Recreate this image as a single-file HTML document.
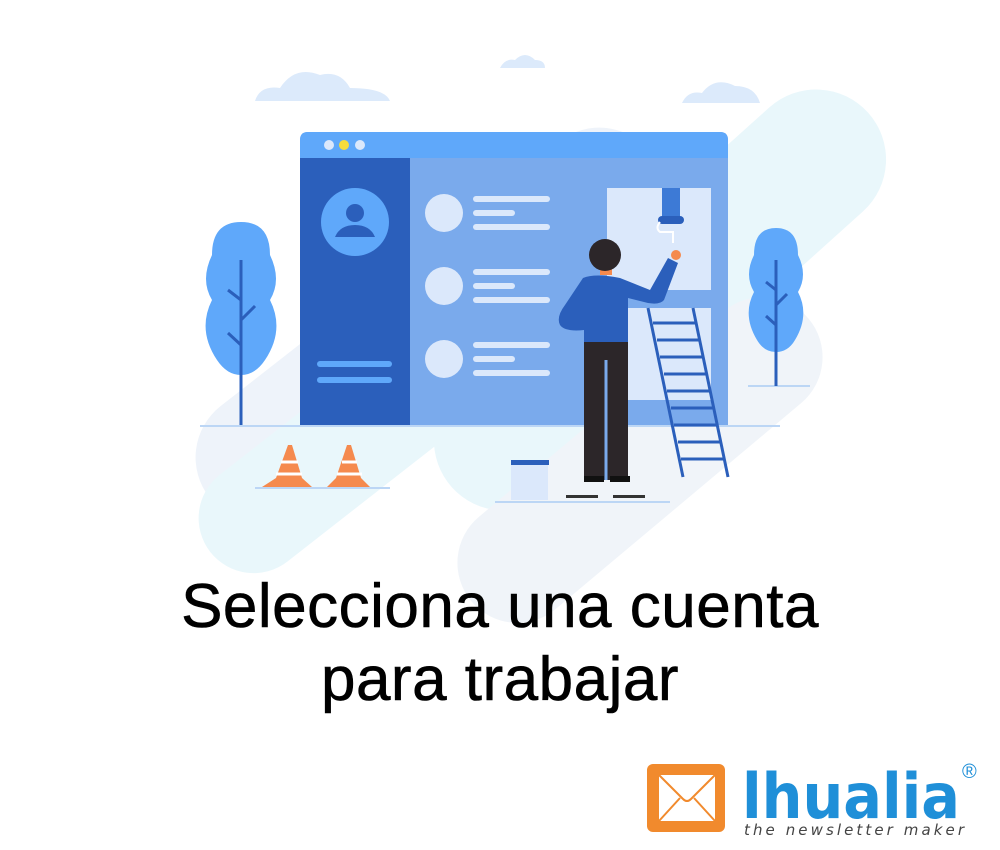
<!DOCTYPE html>
<html><head><meta charset="utf-8"><style>
html,body{margin:0;padding:0;background:#fff;width:1000px;height:850px;overflow:hidden}
.t{position:absolute;left:0;width:1000px;text-align:center;font-family:"Liberation Sans",sans-serif;font-size:62px;color:#000;letter-spacing:0.5px;-webkit-text-stroke:0.6px #000}
</style></head><body>
<svg width="1000" height="850" style="position:absolute;left:0;top:0">
<g opacity="1">
<rect x="150" y="260" width="560" height="130" rx="65" fill="#eef3fa" transform="rotate(-38 430 325)"/>
<rect x="380" y="230" width="560" height="140" rx="70" fill="#e9f7fb" transform="rotate(-42 660 300)"/>
<rect x="170" y="380" width="380" height="110" rx="55" fill="#e9f7fb" transform="rotate(-38 360 435)"/>
<rect x="420" y="400" width="440" height="120" rx="60" fill="#f0f4f9" transform="rotate(-40 640 460)"/>
</g>
<path d="M255 101 Q260 85 280 88 Q295 65 320 75 Q340 70 350 88 Q385 88 390 101 Z" fill="#dceafb"/>
<path d="M500 68 Q505 58 515 60 Q525 50 535 60 Q545 60 545 68 Z" fill="#dceafb"/>
<path d="M682 103 Q688 90 702 93 Q715 76 735 86 Q755 86 760 103 Z" fill="#dceafb"/>
<line x1="217" y1="426" x2="285" y2="426" stroke="#bcd6f5" stroke-width="2"/>
<path d="M241 222 Q270 222 270 255 Q282 280 270 300 Q285 330 265 360 Q255 375 241 375 Q227 375 217 360 Q197 330 212 300 Q200 280 212 255 Q212 222 241 222Z" fill="#5fa8fa"/>
<path d="M241 260 V426 M241 300 L228 290 M241 320 L255 306 M241 345 L228 333" stroke="#2b5fbb" stroke-width="3" fill="none"/>
<line x1="748" y1="386" x2="810" y2="386" stroke="#bcd6f5" stroke-width="2"/>
<path d="M776 228 Q798 228 798 255 Q808 275 798 292 Q810 315 795 340 Q788 352 776 352 Q764 352 757 340 Q742 315 754 292 Q744 275 754 255 Q754 228 776 228Z" fill="#5fa8fa"/>
<path d="M776 260 V386 M776 290 L766 282 M776 305 L787 294 M776 325 L766 316" stroke="#2b5fbb" stroke-width="3" fill="none"/>
<line x1="200" y1="426" x2="780" y2="426" stroke="#bcd6f5" stroke-width="2"/>
<path d="M300 140 Q300 132 308 132 H720 Q728 132 728 140 V425 H300Z" fill="#7aaaec"/>
<path d="M300 140 Q300 132 308 132 H720 Q728 132 728 140 V158 H300Z" fill="#5fa8fa"/>
<circle cx="329" cy="145" r="5" fill="#dbe8fb"/><circle cx="344" cy="145" r="5" fill="#f5dc3a"/><circle cx="360" cy="145" r="5" fill="#dbe8fb"/>
<rect x="300" y="158" width="110" height="267" fill="#2b5fbb"/>
<circle cx="355" cy="222" r="34" fill="#5fa8fa"/>
<circle cx="355" cy="213" r="9" fill="#2b5fbb"/>
<path d="M335 237 Q340 225 355 225 Q370 225 375 237Z" fill="#2b5fbb"/>
<rect x="317" y="361" width="75" height="6" rx="3" fill="#5fa8fa"/>
<rect x="317" y="377" width="75" height="6" rx="3" fill="#5fa8fa"/>
<g fill="#dbe8fb">
<circle cx="444" cy="213" r="19"/><rect x="473" y="196" width="77" height="6" rx="3"/><rect x="473" y="210" width="42" height="6" rx="3"/><rect x="473" y="224" width="77" height="6" rx="3"/>
<circle cx="444" cy="286" r="19"/><rect x="473" y="269" width="77" height="6" rx="3"/><rect x="473" y="283" width="42" height="6" rx="3"/><rect x="473" y="297" width="77" height="6" rx="3"/>
<circle cx="444" cy="359" r="19"/><rect x="473" y="342" width="77" height="6" rx="3"/><rect x="473" y="356" width="42" height="6" rx="3"/><rect x="473" y="370" width="77" height="6" rx="3"/>
<rect x="607" y="188" width="104" height="102"/>
<rect x="607" y="308" width="104" height="92"/>
</g>
<rect x="662" y="188" width="18" height="30" fill="#3d7ad6"/>
<rect x="658" y="216" width="26" height="8" rx="4" fill="#2b5fbb"/>
<path d="M660 222 Q655 228 660 232 H673 V243" stroke="#fff" stroke-width="2" fill="none"/>
<g stroke="#2b5fbb" stroke-width="3"><line x1="648" y1="308" x2="683" y2="477"/><line x1="693" y1="308" x2="728" y2="477"/>
<line x1="653" y1="323" x2="697" y2="323"/><line x1="657" y1="340" x2="700" y2="340"/><line x1="660" y1="357" x2="703" y2="357"/><line x1="664" y1="374" x2="707" y2="374"/><line x1="667" y1="391" x2="710" y2="391"/><line x1="671" y1="408" x2="714" y2="408"/><line x1="674" y1="425" x2="717" y2="425"/><line x1="678" y1="442" x2="720" y2="442"/><line x1="681" y1="459" x2="724" y2="459"/></g>
<line x1="495" y1="502" x2="670" y2="502" stroke="#bcd6f5" stroke-width="2"/>
<rect x="584" y="340" width="44" height="140" fill="#2c2629"/>
<line x1="606" y1="360" x2="606" y2="480" stroke="#7aaaec" stroke-width="3"/>
<rect x="584" y="476" width="20" height="6" fill="#111"/><rect x="610" y="476" width="20" height="6" fill="#111"/>
<rect x="566" y="495" width="32" height="3" fill="#333"/><rect x="613" y="495" width="32" height="3" fill="#333"/>
<path d="M583 278 Q595 273 620 278 L650 290 L668 258 L678 263 L664 300 Q660 305 648 303 L628 298 L628 342 H584 V330 Q565 332 560 325 Q556 317 565 305Z" fill="#2b5fbb"/>
<circle cx="676" cy="255" r="5" fill="#f58a4e"/>
<rect x="600" y="265" width="12" height="10" fill="#f58a4e"/>
<circle cx="605" cy="255" r="16" fill="#2c2629"/>
<path d="M511 462 H548 V500 H511Z" fill="#dbe8fb"/>
<rect x="511" y="460" width="38" height="5" fill="#2b5fbb"/>
<line x1="255" y1="488" x2="390" y2="488" stroke="#bcd6f5" stroke-width="2"/>
<path d="M262 487 L276 478 L288 445 H292 L302 478 L312 487Z" fill="#f58a4e"/>
<path d="M327 487 L336 478 L347 445 H351 L361 478 L370 487Z" fill="#f58a4e"/>
<path d="M281 462 H298 M276 474 H302 M342 462 H357 M337 474 H362" stroke="#fff" stroke-width="3"/>
<rect x="647" y="764" width="78" height="68" rx="6" fill="#f18a2d"/>
<rect x="659" y="775" width="56" height="46" fill="#fff"/>
<path d="M659 775 L683 799 Q687 803 691 799 L715 775 M659 821 L680 798 M715 821 L694 798" stroke="#f18a2d" stroke-width="2" fill="none"/>
<text x="742" y="818" font-family="'DejaVu Sans',sans-serif" font-weight="bold" font-size="62" fill="#1f8fd8" textLength="218" lengthAdjust="spacingAndGlyphs">lhualia</text>
<text x="962" y="778" font-family="'Liberation Sans',sans-serif" font-size="20" fill="#1f8fd8">®</text>
<text x="744" y="835" font-family="'DejaVu Sans',sans-serif" font-style="italic" font-size="15" fill="#444" textLength="220" lengthAdjust="spacing">the newsletter maker</text>
</svg>
<div class="t" style="top:571px">Selecciona una cuenta</div>
<div class="t" style="top:644px">para trabajar</div>
</body></html>
